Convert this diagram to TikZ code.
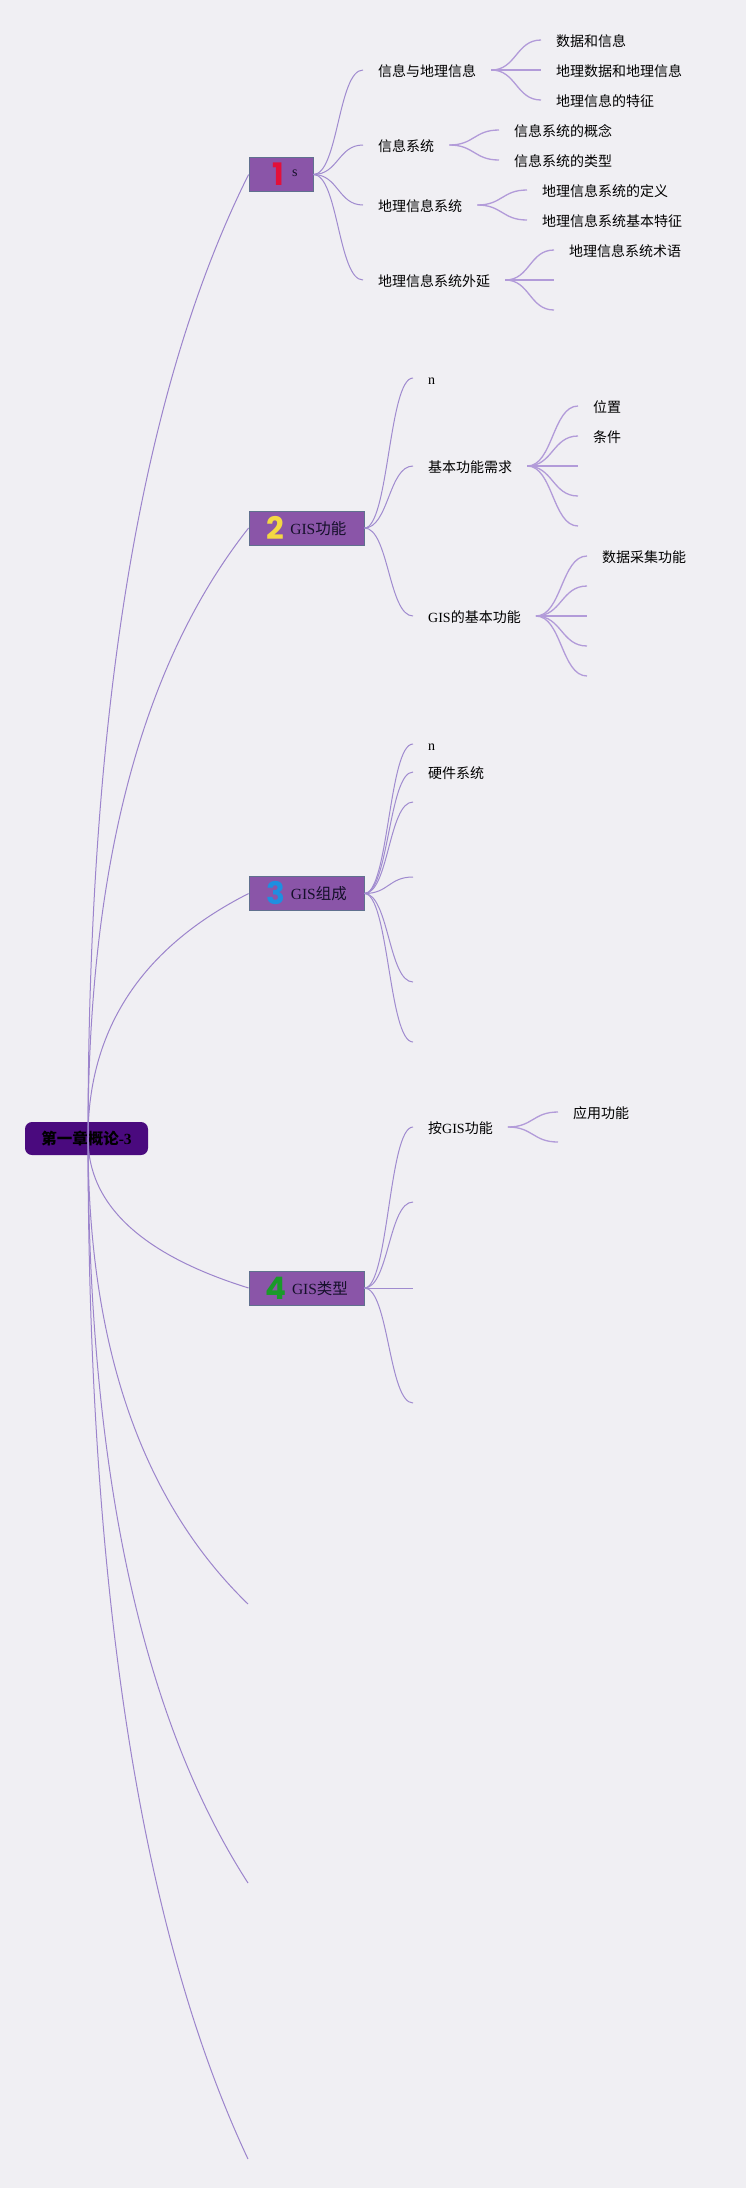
\documentclass[tikz,border=0pt]{standalone}
\usepackage{fontspec}
\setmainfont{Liberation Serif}
\newfontfamily\cjk{Noto Sans CJK SC}
\newfontfamily\numfont{Poppins}
\usetikzlibrary{calc}
\newcommand\zh[1]{{\cjk #1}}
\newcommand\topicnum[2]{\raisebox{-5pt}{\textcolor{#1}{\fontsize{31}{31}\selectfont\numfont\bfseries #2}}}
\definecolor{bgc}{HTML}{F0EFF3}
\definecolor{rootc}{HTML}{4A0A7E}
\definecolor{tfill}{HTML}{8A55A8}
\definecolor{tborder}{HTML}{60708E}
\definecolor{txtdark}{HTML}{15102A}
\definecolor{lineA}{HTML}{9C84CC}
\definecolor{lineB}{HTML}{A08BCF}
\definecolor{lineC}{HTML}{B29BD9}
\definecolor{numA}{HTML}{E3103A}
\definecolor{numB}{HTML}{F3D843}
\definecolor{numC}{HTML}{1E8FE0}
\definecolor{numD}{HTML}{1A9A2A}
\begin{document}
\begin{tikzpicture}[x=1pt,y=-1pt,
  lab/.style={anchor=west, inner xsep=15pt, inner ysep=0pt, text height=13.5pt, text depth=0pt, text=black, font=\fontsize{14}{16}\selectfont},
  topic/.style={draw=tborder, line width=0.8pt, fill=tfill, minimum height=34pt, minimum width=115pt, inner sep=0pt, text height=12pt, text depth=0pt, font=\fontsize{15.5}{18}\selectfont, text=txtdark},
  rootbox/.style={fill=rootc, rounded corners=7pt, minimum width=123pt, minimum height=33pt, inner sep=0pt, font=\fontsize{15.5}{18}\selectfont, text=black},
  rootbranch/.style={draw=lineA, line width=1pt, to path={let \p1=(\tikztostart), \p2=(\tikztotarget) in .. controls (\x1,{\y1+4/9*((\y2)-(\y1))}) and ({\x2+2/3*((\x1)-(\x2))},{\y2+2/9*((\y1)-(\y2))}) .. (\tikztotarget)}},
  scurve/.style={to path={let \p1=(\tikztostart), \p2=(\tikztotarget) in .. controls ({((\x1)+(\x2))/2},\y1) and ({((\x1)+(\x2))/2},\y2) .. (\tikztotarget)}},
  tbranch/.style={draw=lineB, line width=1pt, scurve},
  sbranch/.style={draw=lineC, line width=1.3pt, scurve},
]
\useasboundingbox (0,0) rectangle (746,2188);
\fill[bgc] (0,0) rectangle (746,2188);

% root
\node[rootbox] (root) at (86.5,1138.5) {{\cjk\bfseries 第一章概论}\textbf{-3}};
\coordinate (rc) at (88,1138);

% topics
\node[topic, minimum width=64pt] (t1) at (281,174.5) {\kern8pt\topicnum{numA}{1}\hspace{8pt}\raisebox{4pt}{\fontsize{14}{14}\selectfont s}};
\node[topic] (t2) at (306.5,528) {\topicnum{numB}{2}\hspace{6pt}GIS\zh{功能}};
\node[topic] (t3) at (306.5,893.5) {\topicnum{numC}{3}\hspace{6pt}GIS\zh{组成}};
\node[topic] (t4) at (306.5,1288) {\topicnum{numD}{4}\hspace{6pt}GIS\zh{类型}};
\coordinate (e5) at (248,1604);
\coordinate (e6) at (248,1883);
\coordinate (e7) at (248,2159);

% topic 1 subtree
\node[lab] (a1) at (363,70) {\zh{信息与地理信息}};
\node[lab] (a2) at (363,145) {\zh{信息系统}};
\node[lab] (a3) at (363,205) {\zh{地理信息系统}};
\node[lab] (a4) at (363,280) {\zh{地理信息系统外延}};
\node[lab] (a11) at (541,40) {\zh{数据和信息}};
\node[lab] (a12) at (541,70) {\zh{地理数据和地理信息}};
\node[lab] (a13) at (541,100) {\zh{地理信息的特征}};
\node[lab] (a21) at (499,130) {\zh{信息系统的概念}};
\node[lab] (a22) at (499,160) {\zh{信息系统的类型}};
\node[lab] (a31) at (527,190) {\zh{地理信息系统的定义}};
\node[lab] (a32) at (527,220) {\zh{地理信息系统基本特征}};
\node[lab] (a41) at (554,250) {\zh{地理信息系统术语}};
\coordinate (a42) at (554,280);
\coordinate (a43) at (554,310);

% topic 2 subtree
\node[lab] (b1) at (413,378) {n};
\node[lab] (b2) at (413,466) {\zh{基本功能需求}};
\node[lab] (b3) at (413,616) {GIS\zh{的基本功能}};
\node[lab] (b21) at (578,406) {\zh{位置}};
\node[lab] (b22) at (578,436) {\zh{条件}};
\coordinate (b23) at (578,466);
\coordinate (b24) at (578,496);
\coordinate (b25) at (578,526);
\node[lab] (b31) at (587,556) {\zh{数据采集功能}};
\coordinate (b32) at (587,586);
\coordinate (b33) at (587,616);
\coordinate (b34) at (587,646);
\coordinate (b35) at (587,676);

% topic 3 subtree
\node[lab] (c1) at (413,744) {n};
\node[lab] (c2) at (413,772) {\zh{硬件系统}};
\coordinate (c3) at (413,802);
\coordinate (c4) at (413,877);
\coordinate (c5) at (413,982);
\coordinate (c6) at (413,1042);

% topic 4 subtree
\node[lab] (d1) at (413,1127) {\zh{按}GIS\zh{功能}};
\coordinate (d2) at (413,1202);
\coordinate (d3) at (413,1288);
\coordinate (d4) at (413,1403);
\node[lab] (d11) at (558,1112) {\zh{应用功能}};
\coordinate (d12) at (558,1142);

% root branches
\draw[rootbranch] (rc) to (t1.west);
\draw[rootbranch] (rc) to (t2.west);
\draw[rootbranch] (rc) to (t3.west);
\draw[rootbranch] (rc) to (t4.west);
\draw[rootbranch] (rc) to (e5);
\draw[rootbranch] (rc) to (e6);
\draw[rootbranch] (rc) to (e7);

% topic branches
\foreach \c in {a1,a2,a3,a4} \draw[tbranch] (t1.east) to (\c.west);
\foreach \c in {b1,b2,b3} \draw[tbranch] (t2.east) to (\c.west);
\foreach \c in {c1,c2} \draw[tbranch] (t3.east) to (\c.west);
\foreach \c in {c3,c4,c5,c6} \draw[tbranch] (t3.east) to (\c);
\draw[tbranch] (t4.east) to (d1.west);
\foreach \c in {d2,d3,d4} \draw[tbranch] (t4.east) to (\c);

% sub branches
\foreach \c in {a11,a12,a13} \draw[sbranch] (a1.east) to (\c.west);
\foreach \c in {a21,a22} \draw[sbranch] (a2.east) to (\c.west);
\foreach \c in {a31,a32} \draw[sbranch] (a3.east) to (\c.west);
\draw[sbranch] (a4.east) to (a41.west);
\foreach \c in {a42,a43} \draw[sbranch] (a4.east) to (\c);
\foreach \c in {b21,b22} \draw[sbranch] (b2.east) to (\c.west);
\foreach \c in {b23,b24,b25} \draw[sbranch] (b2.east) to (\c);
\draw[sbranch] (b3.east) to (b31.west);
\foreach \c in {b32,b33,b34,b35} \draw[sbranch] (b3.east) to (\c);
\draw[sbranch] (d1.east) to (d11.west);
\draw[sbranch] (d1.east) to (d12);
\end{tikzpicture}
\end{document}
